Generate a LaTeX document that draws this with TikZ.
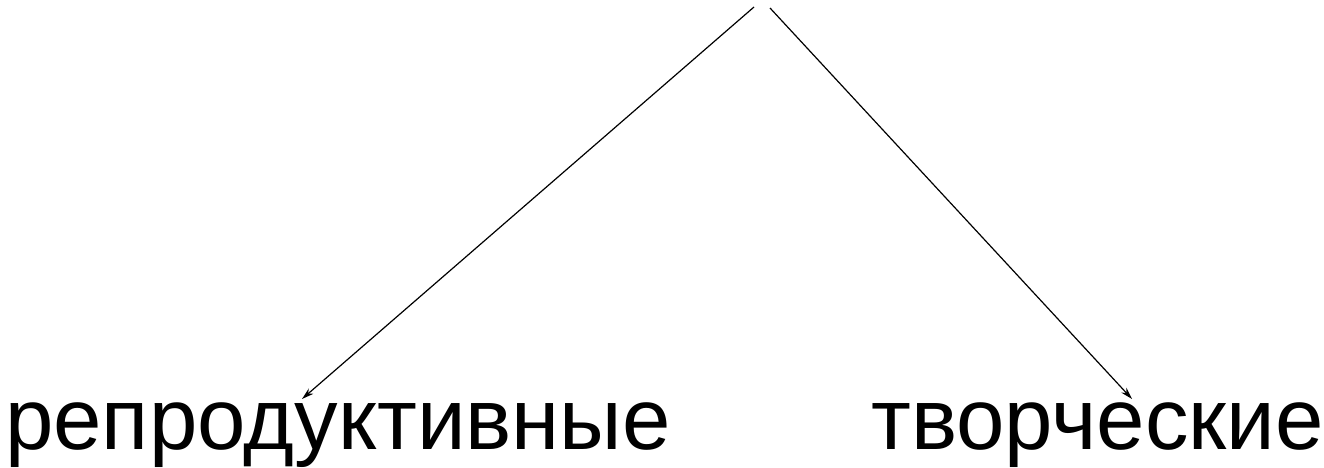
\documentclass[tikz,border=0pt]{standalone}
\usepackage{fontspec}
\setmainfont{Liberation Sans}
\usetikzlibrary{arrows.meta}
\begin{document}
\begin{tikzpicture}[x=1pt,y=-1pt,
  lbl/.style={inner sep=0pt,anchor=base,font=\fontsize{87}{90}\selectfont},
  conn/.style={line width=1.2pt,-{Stealth[length=12pt,width=7pt]}}]
\useasboundingbox (0,0) rectangle (1324,468);
\node[lbl] (rep) at (338,449) {репродуктивные};
\node[lbl] (tvo) at (1097.5,449) {творческие};
\coordinate (s1) at (754,7);
\coordinate (s2) at (770,8);
\coordinate (e1) at (302,399);
\coordinate (e2) at (1132,399);
\draw[conn] (s1) -- (e1);
\draw[conn] (s2) -- (e2);
\end{tikzpicture}
\end{document}
